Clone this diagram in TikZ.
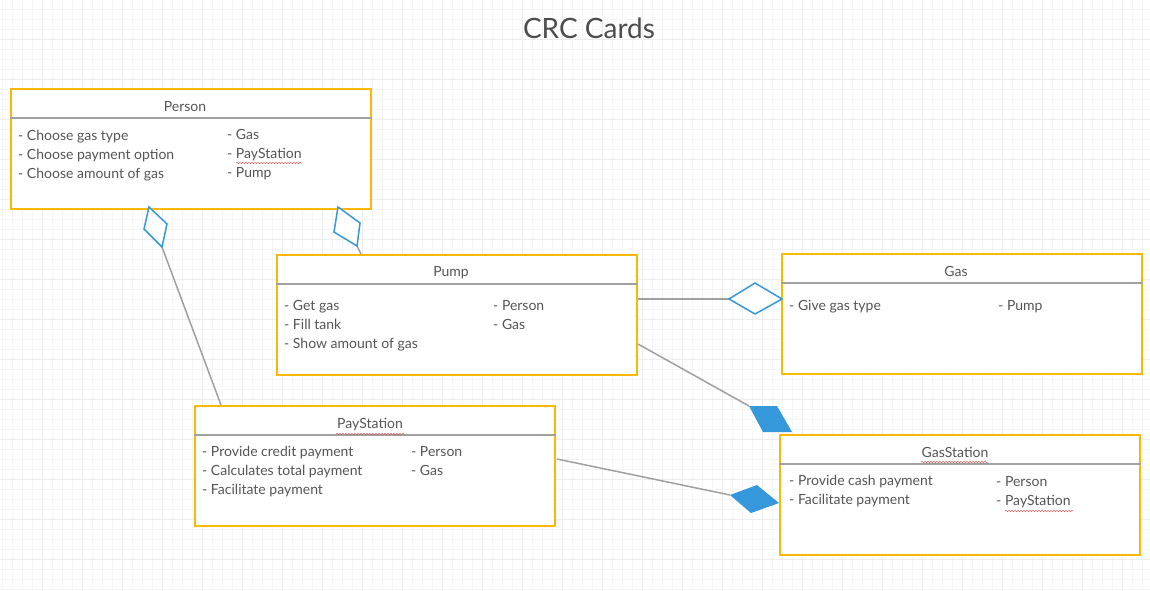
\documentclass[tikz,border=0pt]{standalone}
\usepackage{fontspec}
\setmainfont{Lato}
\usetikzlibrary{calc,decorations.pathmorphing}
\definecolor{cardborder}{HTML}{FFB800}
\definecolor{sepgray}{HTML}{A0A0A0}
\definecolor{txt}{HTML}{555555}
\definecolor{ttl}{HTML}{4D4D4D}
\definecolor{assoc}{HTML}{3498DB}
\definecolor{gridminor}{HTML}{F5F5F5}
\definecolor{gridmajor}{HTML}{EDEDED}
\definecolor{squig}{HTML}{E06666}
\tikzset{
  card/.style={draw=cardborder, line width=2pt, fill=white, rectangle, anchor=north west,
    minimum width=360pt, minimum height=120pt, inner sep=0pt},
  sepline/.style={draw=sepgray, line width=2pt},
  cardtitle/.style={anchor=base, inner sep=0pt, text=txt, font=\fontsize{14}{16}\selectfont},
  item/.style={anchor=base west, inner sep=0pt, text=txt, font=\fontsize{14}{16}\selectfont},
  conn/.style={draw=sepgray, line width=1.5pt},
  opendia/.style={draw=assoc, line width=1.5pt, fill=white, line join=miter},
  filldia/.style={fill=assoc, draw=none},
  spell/.style={draw=squig, line width=0.5pt, decorate,
    decoration={snake, amplitude=0.7pt, segment length=3pt}},
}
\begin{document}
\begin{tikzpicture}[x=1pt,y=-1pt]
\useasboundingbox (0,0) rectangle (1150,590);
\fill[white] (0,0) rectangle (1150,590);
% grid
\foreach \x in {2,12,...,1150} \draw[gridminor, line width=0.7pt] (\x,0) -- (\x,590);
\foreach \y in {9,19,...,590} \draw[gridminor, line width=0.7pt] (0,\y) -- (1150,\y);
\foreach \x in {42,82,...,1150} \draw[gridmajor, line width=0.7pt] (\x,0) -- (\x,590);
\foreach \y in {39,79,...,590} \draw[gridmajor, line width=0.7pt] (0,\y) -- (1150,\y);

% title
\node[anchor=center, inner sep=0pt, text=ttl, font=\fontsize{28}{32}\selectfont] (title) at (589,28) {CRC Cards};

% cards
\node[card] (person) at (10,88) {};
\node[card] (pump) at (276,254) {};
\node[card] (gas) at (781,253) {};
\node[card] (pay) at (194,405) {};
\node[card] (gst) at (779,434) {};

\draw[sepline] ($(person.north west)+(0,30)$) -- ($(person.north east)+(0,30)$);
\draw[sepline] ($(pump.north west)+(0,30)$) -- ($(pump.north east)+(0,30)$);
\draw[sepline] ($(gas.north west)+(0,30)$) -- ($(gas.north east)+(0,30)$);
\draw[sepline] ($(pay.north west)+(0,30)$) -- ($(pay.north east)+(0,30)$);
\draw[sepline] ($(gst.north west)+(0,30)$) -- ($(gst.north east)+(0,30)$);

% Person
\node[cardtitle] (personT) at (185,111) {Person};
\node[item] (p1) at (18,140) {- Choose gas type};
\node[item] (p2) at (18,159) {- Choose payment option};
\node[item] (p3) at (18,178) {- Choose amount of gas};
\node[item] (p4) at (227,139) {- Gas};
\node[item] (p5) at (227,158) {- PayStation};
\node[item] (p6) at (227,177) {- Pump};

% Pump
\node[cardtitle] (pumpT) at (451,276) {Pump};
\node[item] (u1) at (284,310) {- Get gas};
\node[item] (u2) at (284,329) {- Fill tank};
\node[item] (u3) at (284,348) {- Show amount of gas};
\node[item] (u4) at (493,310) {- Person};
\node[item] (u5) at (493,329) {- Gas};

% Gas
\node[cardtitle] (gasT) at (956,276) {Gas};
\node[item] (g1) at (789,310) {- Give gas type};
\node[item] (g2) at (998,310) {- Pump};

% PayStation
\node[cardtitle] (payT) at (370,428) {PayStation};
\node[item] (s1) at (202,456) {- Provide credit payment};
\node[item] (s2) at (202,475) {- Calculates total payment};
\node[item] (s3) at (202,494) {- Facilitate payment};
\node[item] (s4) at (411,456) {- Person};
\node[item] (s5) at (411,475) {- Gas};

% GasStation
\node[cardtitle] (gstT) at (955,457) {GasStation};
\node[item] (t1) at (789,485) {- Provide cash payment};
\node[item] (t2) at (789,504) {- Facilitate payment};
\node[item] (t3) at (996,486) {- Person};
\node[item] (t4) at (996,505) {- PayStation};

% spell-check underlines
\draw[spell] (236,163) -- (302,163);
\draw[spell] (336,434) -- (404,434);
\draw[spell] (921,462) -- (988,462);
\draw[spell] (1005,511) -- (1073,511);

% diamond points
\coordinate (d1b) at (162,247);
\coordinate (d2b) at (357,246);
\coordinate (d3b) at (729,299);
\coordinate (d4b) at (749,406);
\coordinate (d5b) at (730,495);

% connectors
\draw[conn] ($(pay.north west)+(27,0)$) -- (d1b);
\draw[conn] ($(pump.north west)+(85,0)$) -- (d2b);
\draw[conn] ($(pump.north east)+(0,45)$) -- (d3b);
\draw[conn] ($(pump.north east)+(0,90)$) -- (d4b);
\draw[conn] ($(pay.north east)+(1,54)$) -- (d5b);

% diamonds
\draw[opendia] (149,207) -- (144,229) -- (d1b) -- (167,224) -- cycle;
\draw[opendia] (338,207) -- (334,232) -- (d2b) -- (360,223) -- cycle;
\draw[opendia] (d3b) -- (755,283) -- (782,299) -- (755,314) -- cycle;
\fill[filldia] (d4b) -- (777,406) -- (792,432) -- (763,432) -- cycle;
\fill[filldia] (d5b) -- (757,485) -- (779,503) -- (751,513) -- cycle;
\end{tikzpicture}
\end{document}
